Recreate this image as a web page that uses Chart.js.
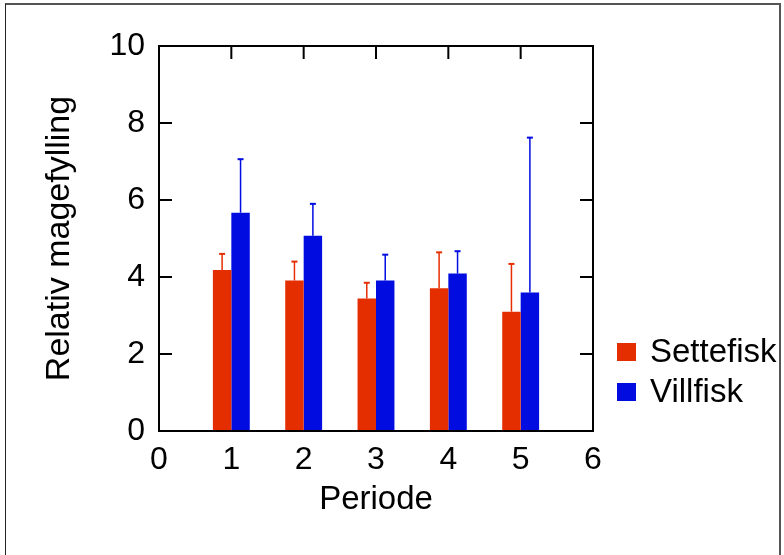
<!DOCTYPE html>
<html>
<head>
<meta charset="utf-8">
<script src="https://cdn.jsdelivr.net/npm/chart.js@4.4.0/dist/chart.umd.min.js"></script>
<style>
  html, body { margin: 0; padding: 0; background: #fff; overflow: hidden; }
  #wrap { position: relative; width: 784px; height: 555px; }
  #frame { position: absolute; left: 5px; top: 3px; width: 773px; height: 600px;
           border-left: 1px solid #222; border-top: 2px solid #555; border-right: 2px solid #555; }
  canvas { position: absolute; left: 0; top: 0; }
</style>
</head>
<body>
<div id="wrap"><div id="frame"></div><canvas id="c" width="784" height="555"></canvas></div>
<script>
// data
const periods      = [1, 2, 3, 4, 5];
const settefisk    = [4.18, 3.91, 3.44, 3.71, 3.10];
const settefiskErr = [0.42, 0.49, 0.41, 0.93, 1.24];
const villfisk     = [5.67, 5.07, 3.91, 4.09, 3.60];
const villfiskErr  = [1.39, 0.83, 0.67, 0.58, 4.02];
const xTicks = [0, 1, 2, 3, 4, 5, 6];
const yTicks = [0, 2, 4, 6, 8, 10];

const RED = '#E52E00';
const BLUE = '#000CE0';
const FONT = '"Liberation Sans", Arial, sans-serif';

const toPoints = (vals) => periods.map((p, i) => ({ x: p, y: vals[i] }));

// =============================
// Error bars, ramme, innvendige ticks, legend
// =============================
const extras = {
  id: 'extras',
  afterDatasetsDraw(chart) {
    const { ctx, scales: { y } } = chart;
    chart.data.datasets.forEach((ds, i) => {
      const meta = chart.getDatasetMeta(i);
      ctx.save();
      ctx.strokeStyle = ds.backgroundColor;
      meta.data.forEach((bar, j) => {
        const top = y.getPixelForValue(ds.data[j].y + ds.err[j]);
        ctx.lineWidth = 1.5;
        ctx.beginPath();
        ctx.moveTo(bar.x, bar.y);
        ctx.lineTo(bar.x, top);
        ctx.stroke();
        ctx.lineWidth = 2;
        ctx.beginPath();
        ctx.moveTo(bar.x - 3, top);
        ctx.lineTo(bar.x + 3, top);
        ctx.stroke();
      });
      ctx.restore();
    });
  },
  afterDraw(chart) {
    const { ctx, chartArea: a, scales: { x, y } } = chart;
    const tl = 13;
    ctx.save();
    ctx.strokeStyle = '#000';
    ctx.lineWidth = 2;
    ctx.strokeRect(a.left, a.top, a.right - a.left, a.bottom - a.top);
    ctx.beginPath();
    yTicks.slice(1, -1).forEach(v => {
      const py = y.getPixelForValue(v);
      ctx.moveTo(a.left, py); ctx.lineTo(a.left + tl, py);
      ctx.moveTo(a.right, py); ctx.lineTo(a.right - tl, py);
    });
    xTicks.slice(1, -1).forEach(v => {
      const px = x.getPixelForValue(v);
      ctx.moveTo(px, a.top); ctx.lineTo(px, a.top + tl);
    });
    ctx.stroke();

    // legend
    const lx = a.right + 24;
    const ly = 352;
    ctx.font = `33px ${FONT}`;
    ctx.textBaseline = 'middle';
    ctx.textAlign = 'left';
    chart.data.datasets.forEach((ds, i) => {
      const cy = ly + i * 40;
      ctx.fillStyle = ds.backgroundColor;
      ctx.fillRect(lx, cy - 9, 19, 18);
      ctx.fillStyle = '#000';
      ctx.fillText(ds.label, lx + 33, cy + 1);
    });
    ctx.restore();
  }
};

new Chart(document.getElementById('c'), {
  type: 'bar',
  data: {
    datasets: [
      { label: 'Settefisk', data: toPoints(settefisk), err: settefiskErr, backgroundColor: RED },
      { label: 'Villfisk',  data: toPoints(villfisk),  err: villfiskErr,  backgroundColor: BLUE }
    ]
  },
  options: {
    responsive: false,
    animation: false,
    categoryPercentage: 0.51,
    barPercentage: 1.0,
    layout: { padding: { top: 46, right: 191, left: 0, bottom: 0 } },
    plugins: { legend: { display: false }, tooltip: { enabled: false } },
    scales: {
      x: {
        type: 'linear', min: 0, max: 6, offset: false,
        grid: { display: false, drawTicks: false, offset: false },
        border: { display: false },
        afterBuildTicks: s => { s.ticks = xTicks.map(v => ({ value: v })); },
        ticks: { font: { family: FONT, size: 32 }, color: '#000', padding: 10, maxRotation: 0, autoSkip: false },
        title: { display: true, text: 'Periode', color: '#000',
                 font: { family: FONT, size: 33 }, padding: { top: 0, bottom: 35 } },
        afterFit: s => { s.height = 124; }
      },
      y: {
        min: 0, max: 10,
        grid: { display: false, drawTicks: false },
        border: { display: false },
        afterBuildTicks: s => { s.ticks = yTicks.map(v => ({ value: v })); },
        ticks: { font: { family: FONT, size: 32 }, color: '#000', padding: 14 },
        title: { display: true, text: 'Relativ magefylling', color: '#000',
                 font: { family: FONT, size: 34 }, padding: { top: 39, bottom: 0 } },
        afterFit: s => { s.width = 159; }
      }
    }
  },
  plugins: [extras]
});
</script>
</body>
</html>
